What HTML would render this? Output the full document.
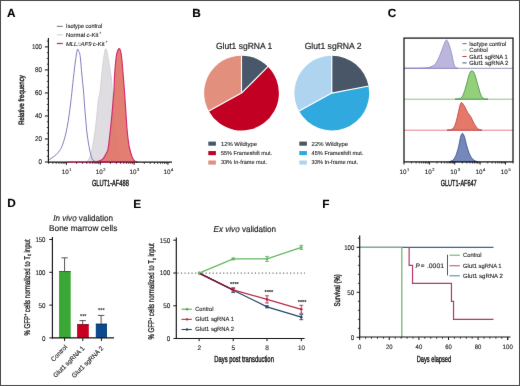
<!DOCTYPE html>
<html><head><meta charset="utf-8"><style>
html,body{margin:0;padding:0;background:#fff;width:520px;height:386px;overflow:hidden;}
svg{display:block;font-family:"Liberation Sans",sans-serif;text-rendering:geometricPrecision;}
</style></head><body>
<svg width="520" height="386" viewBox="0 0 520 386">
<defs><filter id="soft" x="0" y="0" width="520" height="386" filterUnits="userSpaceOnUse" color-interpolation-filters="sRGB"><feConvolveMatrix order="3" kernelMatrix="0 1 0 1 16 1 0 1 0" divisor="20" edgeMode="duplicate" preserveAlpha="true"/></filter></defs>
<g filter="url(#soft)">
<rect x="0.5" y="0.5" width="519" height="385" fill="#fff" stroke="#4a4a4a" stroke-width="1"/>
<text x="6.9" y="16.8" font-size="11.8" text-anchor="start" fill="#000" font-weight="bold" stroke="#000" stroke-width="0.12">A</text>
<text x="192.15" y="16.8" font-size="11.8" text-anchor="start" fill="#000" font-weight="bold" stroke="#000" stroke-width="0.12">B</text>
<text x="387.65" y="16.8" font-size="11.8" text-anchor="start" fill="#000" font-weight="bold" stroke="#000" stroke-width="0.12">C</text>
<text x="7.15" y="207.3" font-size="11.8" text-anchor="start" fill="#000" font-weight="bold" stroke="#000" stroke-width="0.12">D</text>
<text x="133.25" y="207.5" font-size="11.8" text-anchor="start" fill="#000" font-weight="bold" stroke="#000" stroke-width="0.12">E</text>
<text x="322.35" y="207.5" font-size="11.8" text-anchor="start" fill="#000" font-weight="bold" stroke="#000" stroke-width="0.12">F</text>
<path d="M86 161.8 C86.48 161.33 87.85 161.3 88.9 159 C89.95 156.7 91.17 153.55 92.3 148 C93.43 142.45 94.7 133.7 95.7 125.7 C96.7 117.7 97.58 105.65 98.3 100 C99.02 94.35 99.3 97.3 100 91.8 C100.7 86.3 101.75 73.47 102.5 67 C103.25 60.53 103.95 56.03 104.5 53 C105.05 49.97 105.33 48.8 105.8 48.8 C106.27 48.8 106.75 50.53 107.3 53 C107.85 55.47 108.38 59.07 109.1 63.6 C109.82 68.13 111.05 75.5 111.6 80.2 C112.15 84.9 112.17 88.5 112.4 91.8 C112.63 95.1 112.68 95.3 113 100 C113.32 104.7 113.8 113.67 114.3 120 C114.8 126.33 115.38 133 116 138 C116.62 143 117.25 146.58 118 150 C118.75 153.42 119.5 156.58 120.5 158.5 C121.5 160.42 122.75 160.92 124 161.5 C125.25 162.08 127.33 161.92 128 162 Z" fill="#dfdde2" stroke="#c8c8cc" stroke-width="0.7"/>
<path d="M92 162 C92.67 161.93 94.85 161.75 96 161.6 C97.15 161.45 97.98 161.37 98.9 161.1 C99.82 160.83 100.7 160.55 101.5 160 C102.3 159.45 102.92 158.88 103.7 157.8 C104.48 156.72 105.45 155.13 106.2 153.5 C106.95 151.87 107.48 152.12 108.2 148 C108.92 143.88 109.8 135.23 110.5 128.8 C111.2 122.37 111.93 114.53 112.4 109.4 C112.87 104.27 113.03 101.23 113.3 98 C113.57 94.77 113.78 93.8 114 90 C114.22 86.2 114.23 80.7 114.6 75.2 C114.97 69.7 115.67 61.12 116.2 57 C116.73 52.88 117.32 51.9 117.8 50.5 C118.28 49.1 118.67 48.6 119.1 48.6 C119.53 48.6 119.98 49.1 120.4 50.5 C120.82 51.9 121.13 52.88 121.6 57 C122.07 61.12 122.72 69.4 123.2 75.2 C123.68 81 124.08 86.1 124.5 91.8 C124.92 97.5 125.28 103.23 125.7 109.4 C126.12 115.57 126.58 123.7 127 128.8 C127.42 133.9 127.78 136.8 128.2 140 C128.62 143.2 128.8 145.03 129.5 148 C130.2 150.97 131.43 155.55 132.4 157.8 C133.37 160.05 134.37 160.8 135.3 161.5 C136.23 162.2 137.55 161.92 138 162 Z" fill="#e07466" stroke="#d22a6c" stroke-width="1.15" fill-opacity="0.92"/>
<path d="M48.6 160.2 C49.17 159.8 50.72 158.73 52 157.8 C53.28 156.87 55.05 155.77 56.3 154.6 C57.55 153.43 58.5 152.33 59.5 150.8 C60.5 149.27 61.27 148.17 62.3 145.4 C63.33 142.63 64.7 138.35 65.7 134.2 C66.7 130.05 67.53 125.2 68.3 120.5 C69.07 115.8 69.75 110.25 70.3 106 C70.85 101.75 71.18 98.75 71.6 95 C72.02 91.25 72.18 89 72.8 83.5 C73.42 78 74.63 67.2 75.3 62 C75.97 56.8 76.4 54.47 76.8 52.3 C77.2 50.13 77.42 49.17 77.7 49 C77.98 48.83 78.27 50.87 78.5 51.3 C78.73 51.73 78.88 51.15 79.1 51.6 C79.32 52.05 79.57 52.77 79.8 54 C80.03 55.23 80.15 55.5 80.5 59 C80.85 62.5 81.38 69.5 81.9 75 C82.42 80.5 83.15 86.83 83.6 92 C84.05 97.17 84.27 101.67 84.6 106 C84.93 110.33 85.18 113.33 85.6 118 C86.02 122.67 86.42 128.67 87.1 134 C87.78 139.33 88.98 146.25 89.7 150 C90.42 153.75 90.83 154.8 91.4 156.5 C91.97 158.2 92.33 159.35 93.1 160.2 C93.87 161.05 94.85 161.3 96 161.6 C97.15 161.9 99.33 161.93 100 162" fill="none" stroke="#7b76bb" stroke-width="0.95"/>
<line x1="48.4" y1="38" x2="48.4" y2="162.6" stroke="#141414" stroke-width="1.15"/>
<line x1="47.9" y1="162.1" x2="172" y2="162.1" stroke="#141414" stroke-width="1.15"/>
<line x1="67" y1="162.1" x2="136" y2="162.1" stroke="#c8286a" stroke-width="1.3"/>
<line x1="44.8" y1="162" x2="48.4" y2="162" stroke="#141414" stroke-width="1"/>
<line x1="46.8" y1="156.25" x2="48.4" y2="156.25" stroke="#141414" stroke-width="0.8"/>
<line x1="46.8" y1="150.49" x2="48.4" y2="150.49" stroke="#141414" stroke-width="0.8"/>
<line x1="46.8" y1="144.74" x2="48.4" y2="144.74" stroke="#141414" stroke-width="0.8"/>
<line x1="44.8" y1="138.98" x2="48.4" y2="138.98" stroke="#141414" stroke-width="1"/>
<line x1="46.8" y1="133.22" x2="48.4" y2="133.22" stroke="#141414" stroke-width="0.8"/>
<line x1="46.8" y1="127.47" x2="48.4" y2="127.47" stroke="#141414" stroke-width="0.8"/>
<line x1="46.8" y1="121.72" x2="48.4" y2="121.72" stroke="#141414" stroke-width="0.8"/>
<line x1="44.8" y1="115.96" x2="48.4" y2="115.96" stroke="#141414" stroke-width="1"/>
<line x1="46.8" y1="110.2" x2="48.4" y2="110.2" stroke="#141414" stroke-width="0.8"/>
<line x1="46.8" y1="104.45" x2="48.4" y2="104.45" stroke="#141414" stroke-width="0.8"/>
<line x1="46.8" y1="98.69" x2="48.4" y2="98.69" stroke="#141414" stroke-width="0.8"/>
<line x1="44.8" y1="92.94" x2="48.4" y2="92.94" stroke="#141414" stroke-width="1"/>
<line x1="46.8" y1="87.19" x2="48.4" y2="87.19" stroke="#141414" stroke-width="0.8"/>
<line x1="46.8" y1="81.43" x2="48.4" y2="81.43" stroke="#141414" stroke-width="0.8"/>
<line x1="46.8" y1="75.67" x2="48.4" y2="75.67" stroke="#141414" stroke-width="0.8"/>
<line x1="44.8" y1="69.92" x2="48.4" y2="69.92" stroke="#141414" stroke-width="1"/>
<line x1="46.8" y1="64.16" x2="48.4" y2="64.16" stroke="#141414" stroke-width="0.8"/>
<line x1="46.8" y1="58.41" x2="48.4" y2="58.41" stroke="#141414" stroke-width="0.8"/>
<line x1="46.8" y1="52.66" x2="48.4" y2="52.66" stroke="#141414" stroke-width="0.8"/>
<line x1="44.8" y1="46.9" x2="48.4" y2="46.9" stroke="#141414" stroke-width="1"/>
<line x1="46.8" y1="41.14" x2="48.4" y2="41.14" stroke="#141414" stroke-width="0.8"/>
<text x="42" y="164.3" font-size="6.9" text-anchor="end" fill="#262626" stroke="#262626" stroke-width="0.14" textLength="3.5" lengthAdjust="spacingAndGlyphs">0</text>
<text x="42" y="141.28" font-size="6.9" text-anchor="end" fill="#262626" stroke="#262626" stroke-width="0.14" textLength="7" lengthAdjust="spacingAndGlyphs">20</text>
<text x="42" y="118.26" font-size="6.9" text-anchor="end" fill="#262626" stroke="#262626" stroke-width="0.14" textLength="7" lengthAdjust="spacingAndGlyphs">40</text>
<text x="42" y="95.24" font-size="6.9" text-anchor="end" fill="#262626" stroke="#262626" stroke-width="0.14" textLength="7" lengthAdjust="spacingAndGlyphs">60</text>
<text x="42" y="72.22" font-size="6.9" text-anchor="end" fill="#262626" stroke="#262626" stroke-width="0.14" textLength="7" lengthAdjust="spacingAndGlyphs">80</text>
<text x="42" y="49.2" font-size="6.9" text-anchor="end" fill="#262626" stroke="#262626" stroke-width="0.14" textLength="10.1" lengthAdjust="spacingAndGlyphs">100</text>
<line x1="48.7" y1="162.2" x2="48.7" y2="163.9" stroke="#141414" stroke-width="0.8"/>
<line x1="52.93" y1="162.2" x2="52.93" y2="163.9" stroke="#141414" stroke-width="0.8"/>
<line x1="56.21" y1="162.2" x2="56.21" y2="163.9" stroke="#141414" stroke-width="0.8"/>
<line x1="58.89" y1="162.2" x2="58.89" y2="163.9" stroke="#141414" stroke-width="0.8"/>
<line x1="61.16" y1="162.2" x2="61.16" y2="163.9" stroke="#141414" stroke-width="0.8"/>
<line x1="63.12" y1="162.2" x2="63.12" y2="163.9" stroke="#141414" stroke-width="0.8"/>
<line x1="64.85" y1="162.2" x2="64.85" y2="163.9" stroke="#141414" stroke-width="0.8"/>
<line x1="66.4" y1="162.2" x2="66.4" y2="164.8" stroke="#141414" stroke-width="1"/>
<line x1="76.59" y1="162.2" x2="76.59" y2="163.9" stroke="#141414" stroke-width="0.8"/>
<line x1="82.55" y1="162.2" x2="82.55" y2="163.9" stroke="#141414" stroke-width="0.8"/>
<line x1="86.78" y1="162.2" x2="86.78" y2="163.9" stroke="#141414" stroke-width="0.8"/>
<line x1="90.06" y1="162.2" x2="90.06" y2="163.9" stroke="#141414" stroke-width="0.8"/>
<line x1="92.74" y1="162.2" x2="92.74" y2="163.9" stroke="#141414" stroke-width="0.8"/>
<line x1="95.01" y1="162.2" x2="95.01" y2="163.9" stroke="#141414" stroke-width="0.8"/>
<line x1="96.97" y1="162.2" x2="96.97" y2="163.9" stroke="#141414" stroke-width="0.8"/>
<line x1="98.7" y1="162.2" x2="98.7" y2="163.9" stroke="#141414" stroke-width="0.8"/>
<line x1="100.25" y1="162.2" x2="100.25" y2="164.8" stroke="#141414" stroke-width="1"/>
<line x1="110.44" y1="162.2" x2="110.44" y2="163.9" stroke="#141414" stroke-width="0.8"/>
<line x1="116.4" y1="162.2" x2="116.4" y2="163.9" stroke="#141414" stroke-width="0.8"/>
<line x1="120.63" y1="162.2" x2="120.63" y2="163.9" stroke="#141414" stroke-width="0.8"/>
<line x1="123.91" y1="162.2" x2="123.91" y2="163.9" stroke="#141414" stroke-width="0.8"/>
<line x1="126.59" y1="162.2" x2="126.59" y2="163.9" stroke="#141414" stroke-width="0.8"/>
<line x1="128.86" y1="162.2" x2="128.86" y2="163.9" stroke="#141414" stroke-width="0.8"/>
<line x1="130.82" y1="162.2" x2="130.82" y2="163.9" stroke="#141414" stroke-width="0.8"/>
<line x1="132.55" y1="162.2" x2="132.55" y2="163.9" stroke="#141414" stroke-width="0.8"/>
<line x1="134.1" y1="162.2" x2="134.1" y2="164.8" stroke="#141414" stroke-width="1"/>
<line x1="144.29" y1="162.2" x2="144.29" y2="163.9" stroke="#141414" stroke-width="0.8"/>
<line x1="150.25" y1="162.2" x2="150.25" y2="163.9" stroke="#141414" stroke-width="0.8"/>
<line x1="154.48" y1="162.2" x2="154.48" y2="163.9" stroke="#141414" stroke-width="0.8"/>
<line x1="157.76" y1="162.2" x2="157.76" y2="163.9" stroke="#141414" stroke-width="0.8"/>
<line x1="160.44" y1="162.2" x2="160.44" y2="163.9" stroke="#141414" stroke-width="0.8"/>
<line x1="162.71" y1="162.2" x2="162.71" y2="163.9" stroke="#141414" stroke-width="0.8"/>
<line x1="164.67" y1="162.2" x2="164.67" y2="163.9" stroke="#141414" stroke-width="0.8"/>
<line x1="166.4" y1="162.2" x2="166.4" y2="163.9" stroke="#141414" stroke-width="0.8"/>
<line x1="167.95" y1="162.2" x2="167.95" y2="164.8" stroke="#141414" stroke-width="1"/>
<text x="66.7" y="173.9" font-size="6.3" text-anchor="middle" fill="#262626" stroke="#262626" stroke-width="0.13">10<tspan dx="0.5" dy="-2.6" font-size="4">1</tspan></text>
<text x="100.55" y="173.9" font-size="6.3" text-anchor="middle" fill="#262626" stroke="#262626" stroke-width="0.13">10<tspan dx="0.5" dy="-2.6" font-size="4">2</tspan></text>
<text x="134.4" y="173.9" font-size="6.3" text-anchor="middle" fill="#262626" stroke="#262626" stroke-width="0.13">10<tspan dx="0.5" dy="-2.6" font-size="4">3</tspan></text>
<text x="168.25" y="173.9" font-size="6.3" text-anchor="middle" fill="#262626" stroke="#262626" stroke-width="0.13">10<tspan dx="0.5" dy="-2.6" font-size="4">4</tspan></text>
<text x="110.35" y="185.7" font-size="8.8" text-anchor="middle" fill="#1e1e1e" stroke="#1e1e1e" stroke-width="0.42" textLength="36.9" lengthAdjust="spacingAndGlyphs">GLUT1-AF488</text>
<text x="24.4" y="100.1" font-size="7.8" text-anchor="middle" fill="#1e1e1e" stroke="#1e1e1e" stroke-width="0.4" textLength="49.5" lengthAdjust="spacingAndGlyphs" transform="rotate(-90 24.4 100.1)">Relative frequency</text>
<line x1="56.8" y1="26.3" x2="62.8" y2="26.3" stroke="#6e6a88" stroke-width="1"/>
<line x1="56.8" y1="34.8" x2="62.8" y2="34.8" stroke="#cfdcd4" stroke-width="1.3"/>
<line x1="56.8" y1="43.5" x2="62.8" y2="43.5" stroke="#c8306a" stroke-width="1.3"/>
<text x="66.1" y="28.3" font-size="6" text-anchor="start" fill="#262626" stroke="#262626" stroke-width="0.12" textLength="36.2" lengthAdjust="spacingAndGlyphs">Isotype control</text>
<text x="66" y="36.9" font-size="5.9" text-anchor="start" fill="#262626" stroke="#262626" stroke-width="0.12">Normal c-Kit</text>
<text x="99" y="34" font-size="4" text-anchor="start" fill="#262626" stroke="#262626" stroke-width="0.08">+</text>
<text x="65.9" y="45.6" font-size="5.9" text-anchor="start" fill="#262626" font-style="italic" stroke="#262626" stroke-width="0.12">MLL::AF9</text>
<text x="92.8" y="45.6" font-size="5.9" text-anchor="start" fill="#262626" stroke="#262626" stroke-width="0.12">c-Kit</text>
<text x="105.4" y="42.7" font-size="4" text-anchor="start" fill="#262626" stroke="#262626" stroke-width="0.08">+</text>
<path d="M241.5 93.1 L241.5 55.7 A37.4 37.4 0 0 1 267.95 66.65 Z" fill="#485769" stroke="none" stroke-width="1"/>
<path d="M241.5 93.1 L267.95 66.65 A37.4 37.4 0 1 1 208.73 111.12 Z" fill="#c10024" stroke="none" stroke-width="1"/>
<path d="M241.5 93.1 L208.73 111.12 A37.4 37.4 0 0 1 241.5 55.7 Z" fill="#e28f7e" stroke="none" stroke-width="1"/>
<line x1="241.5" y1="93.1" x2="241.5" y2="55.4" stroke="#fff" stroke-width="1.15"/>
<line x1="241.5" y1="93.1" x2="268.16" y2="66.44" stroke="#fff" stroke-width="1.15"/>
<line x1="241.5" y1="93.1" x2="208.46" y2="111.26" stroke="#fff" stroke-width="1.15"/>
<path d="M331.8 93.1 L331.8 55.7 A37.4 37.4 0 0 1 368.54 86.09 Z" fill="#495668" stroke="none" stroke-width="1"/>
<path d="M331.8 93.1 L368.54 86.09 A37.4 37.4 0 0 1 299.03 111.12 Z" fill="#30a9de" stroke="none" stroke-width="1"/>
<path d="M331.8 93.1 L299.03 111.12 A37.4 37.4 0 0 1 331.8 55.7 Z" fill="#afd4f0" stroke="none" stroke-width="1"/>
<line x1="331.8" y1="93.1" x2="331.8" y2="55.4" stroke="#fff" stroke-width="1.15"/>
<line x1="331.8" y1="93.1" x2="368.83" y2="86.04" stroke="#fff" stroke-width="1.15"/>
<line x1="331.8" y1="93.1" x2="298.76" y2="111.26" stroke="#fff" stroke-width="1.15"/>
<text x="244.1" y="48.5" font-size="8.8" text-anchor="middle" fill="#1e1e1e" stroke="#1e1e1e" stroke-width="0.18" textLength="56.4" lengthAdjust="spacingAndGlyphs">Glut1 sgRNA 1</text>
<text x="333.1" y="48.5" font-size="8.8" text-anchor="middle" fill="#1e1e1e" stroke="#1e1e1e" stroke-width="0.18" textLength="56.8" lengthAdjust="spacingAndGlyphs">Glut1 sgRNA 2</text>
<rect x="208.3" y="141.6" width="7.6" height="4.1" fill="#485769"/>
<text x="220.9" y="145.55" font-size="5.8" text-anchor="start" fill="#262626" stroke="#262626" stroke-width="0.12" textLength="36.1" lengthAdjust="spacingAndGlyphs">12% Wildtype</text>
<rect x="208.3" y="151.05" width="7.6" height="4.1" fill="#c10024"/>
<text x="220.9" y="155" font-size="5.8" text-anchor="start" fill="#262626" stroke="#262626" stroke-width="0.12" textLength="51.3" lengthAdjust="spacingAndGlyphs">55% Frameshift mut.</text>
<rect x="208.3" y="160.5" width="7.6" height="4.1" fill="#e28f7e"/>
<text x="220.9" y="164.45" font-size="5.8" text-anchor="start" fill="#262626" stroke="#262626" stroke-width="0.12" textLength="46.1" lengthAdjust="spacingAndGlyphs">33% In-frame mut.</text>
<rect x="299.3" y="141.6" width="7.6" height="4.1" fill="#495668"/>
<text x="311.6" y="145.55" font-size="5.8" text-anchor="start" fill="#262626" stroke="#262626" stroke-width="0.12" textLength="36.5" lengthAdjust="spacingAndGlyphs">22% Wildtype</text>
<rect x="299.3" y="151.05" width="7.6" height="4.1" fill="#30a9de"/>
<text x="311.6" y="155" font-size="5.8" text-anchor="start" fill="#262626" stroke="#262626" stroke-width="0.12" textLength="51.9" lengthAdjust="spacingAndGlyphs">45% Frameshift mut.</text>
<rect x="299.3" y="160.5" width="7.6" height="4.1" fill="#afd4f0"/>
<text x="311.6" y="164.45" font-size="5.8" text-anchor="start" fill="#262626" stroke="#262626" stroke-width="0.12" textLength="46.5" lengthAdjust="spacingAndGlyphs">33% In-frame mut.</text>
<line x1="404" y1="68.3" x2="513" y2="68.3" stroke="#8c88ae" stroke-width="0.9"/>
<line x1="404" y1="99.2" x2="513" y2="99.2" stroke="#80c078" stroke-width="0.9"/>
<line x1="404" y1="130.2" x2="513" y2="130.2" stroke="#e2737f" stroke-width="0.9"/>
<path d="M404 68.3 C405.83 68.29 412 68.28 415 68.25 C418 68.22 419.82 68.21 422 68.1 C424.18 67.99 426.18 68.02 428.1 67.6 C430.02 67.18 432.15 66.4 433.5 65.6 C434.85 64.8 435.42 63.92 436.2 62.8 C436.98 61.68 437.52 60.33 438.2 58.9 C438.88 57.47 439.63 55.77 440.3 54.2 C440.97 52.63 441.48 51.37 442.2 49.5 C442.92 47.63 443.87 44.58 444.6 43 C445.33 41.42 445.88 39.82 446.6 40 C447.32 40.18 448.28 42.67 448.9 44.1 C449.52 45.53 449.85 47.03 450.3 48.6 C450.75 50.17 451.2 51.85 451.6 53.5 C452 55.15 452.37 56.93 452.7 58.5 C453.03 60.07 453.27 61.62 453.6 62.9 C453.93 64.18 454.35 65.42 454.7 66.2 C455.05 66.98 455.15 67.25 455.7 67.6 C456.25 67.95 457.62 68.18 458 68.3 Z" fill="#bcb6de" stroke="#8d86c4" stroke-width="0.8"/>
<path d="M455 99.2 C455.77 99.12 458.47 99.03 459.6 98.7 C460.73 98.37 461.15 98 461.8 97.2 C462.45 96.4 462.97 95.17 463.5 93.9 C464.03 92.63 464.53 91.05 465 89.6 C465.47 88.15 465.87 86.77 466.3 85.2 C466.73 83.63 467.19 81.8 467.6 80.2 C468.01 78.6 468.3 76.97 468.75 75.6 C469.2 74.23 469.78 72.8 470.3 72 C470.82 71.2 471.35 70.8 471.9 70.8 C472.45 70.8 473.05 71.2 473.6 72 C474.15 72.8 474.72 74.23 475.2 75.6 C475.68 76.97 476.05 78.6 476.5 80.2 C476.95 81.8 477.43 83.57 477.9 85.2 C478.37 86.83 478.82 88.4 479.3 90 C479.78 91.6 480.27 93.53 480.8 94.8 C481.33 96.07 481.87 96.92 482.5 97.6 C483.13 98.28 483.68 98.63 484.6 98.9 C485.52 99.17 487.43 99.15 488 99.2 Z" fill="#94d07c" stroke="#3f8f3c" stroke-width="0.8"/>
<path d="M447 130.2 C447.78 130.07 450.6 129.83 451.7 129.4 C452.8 128.97 453.03 128.35 453.6 127.6 C454.17 126.85 454.63 126.07 455.1 124.9 C455.57 123.73 456 122.05 456.4 120.6 C456.8 119.15 457.15 117.7 457.5 116.2 C457.85 114.7 458.18 113.03 458.5 111.6 C458.82 110.17 459.08 108.87 459.4 107.6 C459.72 106.33 460.05 104.83 460.4 104 C460.75 103.17 461.1 102.67 461.5 102.6 C461.9 102.53 462.35 103.08 462.8 103.6 C463.25 104.12 463.68 104.8 464.2 105.7 C464.72 106.6 465.33 107.88 465.9 109 C466.47 110.12 466.83 111.2 467.6 112.4 C468.37 113.6 469.73 115.02 470.5 116.2 C471.27 117.38 471.65 118.37 472.2 119.5 C472.75 120.63 473.2 121.88 473.8 123 C474.4 124.12 475.15 125.3 475.8 126.2 C476.45 127.1 477.07 127.83 477.7 128.4 C478.33 128.97 478.88 129.3 479.6 129.6 C480.32 129.9 481.6 130.1 482 130.2 Z" fill="#e6786a" stroke="#b8403e" stroke-width="0.8"/>
<path d="M449 161.9 C449.7 161.58 452.23 160.72 453.2 160 C454.17 159.28 454.32 158.45 454.8 157.6 C455.28 156.75 455.68 155.95 456.1 154.9 C456.52 153.85 456.9 152.58 457.3 151.3 C457.7 150.02 458.13 148.7 458.5 147.2 C458.87 145.7 459.18 143.9 459.5 142.3 C459.82 140.7 460.08 138.88 460.4 137.6 C460.72 136.32 461.05 135.32 461.4 134.6 C461.75 133.88 462.13 133.27 462.5 133.3 C462.87 133.33 463.23 134.08 463.6 134.8 C463.97 135.52 464.37 136.52 464.7 137.6 C465.03 138.68 465.28 140.02 465.6 141.3 C465.92 142.58 466.23 143.97 466.6 145.3 C466.97 146.63 467.4 148.02 467.8 149.3 C468.2 150.58 468.53 151.85 469 153 C469.47 154.15 470.03 155.23 470.6 156.2 C471.17 157.17 471.67 158.03 472.4 158.8 C473.13 159.57 474.07 160.3 475 160.8 C475.93 161.3 477.5 161.63 478 161.8 Z" fill="#7488bb" stroke="#2f4a88" stroke-width="0.8"/>
<rect x="404" y="38.1" width="109" height="123.8" fill="none" stroke="#1c1c1c" stroke-width="1.3"/>
<line x1="404" y1="161.9" x2="404" y2="164.5" stroke="#141414" stroke-width="1"/>
<line x1="411.63" y1="161.9" x2="411.63" y2="163.5" stroke="#141414" stroke-width="0.8"/>
<line x1="416.1" y1="161.9" x2="416.1" y2="163.5" stroke="#141414" stroke-width="0.8"/>
<line x1="419.27" y1="161.9" x2="419.27" y2="163.5" stroke="#141414" stroke-width="0.8"/>
<line x1="421.73" y1="161.9" x2="421.73" y2="163.5" stroke="#141414" stroke-width="0.8"/>
<line x1="423.73" y1="161.9" x2="423.73" y2="163.5" stroke="#141414" stroke-width="0.8"/>
<line x1="425.43" y1="161.9" x2="425.43" y2="163.5" stroke="#141414" stroke-width="0.8"/>
<line x1="426.9" y1="161.9" x2="426.9" y2="163.5" stroke="#141414" stroke-width="0.8"/>
<line x1="428.2" y1="161.9" x2="428.2" y2="163.5" stroke="#141414" stroke-width="0.8"/>
<line x1="429.36" y1="161.9" x2="429.36" y2="164.5" stroke="#141414" stroke-width="1"/>
<line x1="436.99" y1="161.9" x2="436.99" y2="163.5" stroke="#141414" stroke-width="0.8"/>
<line x1="441.46" y1="161.9" x2="441.46" y2="163.5" stroke="#141414" stroke-width="0.8"/>
<line x1="444.63" y1="161.9" x2="444.63" y2="163.5" stroke="#141414" stroke-width="0.8"/>
<line x1="447.09" y1="161.9" x2="447.09" y2="163.5" stroke="#141414" stroke-width="0.8"/>
<line x1="449.09" y1="161.9" x2="449.09" y2="163.5" stroke="#141414" stroke-width="0.8"/>
<line x1="450.79" y1="161.9" x2="450.79" y2="163.5" stroke="#141414" stroke-width="0.8"/>
<line x1="452.26" y1="161.9" x2="452.26" y2="163.5" stroke="#141414" stroke-width="0.8"/>
<line x1="453.56" y1="161.9" x2="453.56" y2="163.5" stroke="#141414" stroke-width="0.8"/>
<line x1="454.72" y1="161.9" x2="454.72" y2="164.5" stroke="#141414" stroke-width="1"/>
<line x1="462.35" y1="161.9" x2="462.35" y2="163.5" stroke="#141414" stroke-width="0.8"/>
<line x1="466.82" y1="161.9" x2="466.82" y2="163.5" stroke="#141414" stroke-width="0.8"/>
<line x1="469.99" y1="161.9" x2="469.99" y2="163.5" stroke="#141414" stroke-width="0.8"/>
<line x1="472.45" y1="161.9" x2="472.45" y2="163.5" stroke="#141414" stroke-width="0.8"/>
<line x1="474.45" y1="161.9" x2="474.45" y2="163.5" stroke="#141414" stroke-width="0.8"/>
<line x1="476.15" y1="161.9" x2="476.15" y2="163.5" stroke="#141414" stroke-width="0.8"/>
<line x1="477.62" y1="161.9" x2="477.62" y2="163.5" stroke="#141414" stroke-width="0.8"/>
<line x1="478.92" y1="161.9" x2="478.92" y2="163.5" stroke="#141414" stroke-width="0.8"/>
<line x1="480.08" y1="161.9" x2="480.08" y2="164.5" stroke="#141414" stroke-width="1"/>
<line x1="487.71" y1="161.9" x2="487.71" y2="163.5" stroke="#141414" stroke-width="0.8"/>
<line x1="492.18" y1="161.9" x2="492.18" y2="163.5" stroke="#141414" stroke-width="0.8"/>
<line x1="495.35" y1="161.9" x2="495.35" y2="163.5" stroke="#141414" stroke-width="0.8"/>
<line x1="497.81" y1="161.9" x2="497.81" y2="163.5" stroke="#141414" stroke-width="0.8"/>
<line x1="499.81" y1="161.9" x2="499.81" y2="163.5" stroke="#141414" stroke-width="0.8"/>
<line x1="501.51" y1="161.9" x2="501.51" y2="163.5" stroke="#141414" stroke-width="0.8"/>
<line x1="502.98" y1="161.9" x2="502.98" y2="163.5" stroke="#141414" stroke-width="0.8"/>
<line x1="504.28" y1="161.9" x2="504.28" y2="163.5" stroke="#141414" stroke-width="0.8"/>
<line x1="505.44" y1="161.9" x2="505.44" y2="164.5" stroke="#141414" stroke-width="1"/>
<line x1="513.07" y1="161.9" x2="513.07" y2="163.5" stroke="#141414" stroke-width="0.8"/>
<text x="404.3" y="173.9" font-size="6.3" text-anchor="middle" fill="#262626" stroke="#262626" stroke-width="0.13">10<tspan dx="0.5" dy="-2.6" font-size="4">1</tspan></text>
<text x="429.66" y="173.9" font-size="6.3" text-anchor="middle" fill="#262626" stroke="#262626" stroke-width="0.13">10<tspan dx="0.5" dy="-2.6" font-size="4">2</tspan></text>
<text x="455.02" y="173.9" font-size="6.3" text-anchor="middle" fill="#262626" stroke="#262626" stroke-width="0.13">10<tspan dx="0.5" dy="-2.6" font-size="4">3</tspan></text>
<text x="480.38" y="173.9" font-size="6.3" text-anchor="middle" fill="#262626" stroke="#262626" stroke-width="0.13">10<tspan dx="0.5" dy="-2.6" font-size="4">4</tspan></text>
<text x="505.74" y="173.9" font-size="6.3" text-anchor="middle" fill="#262626" stroke="#262626" stroke-width="0.13">10<tspan dx="0.5" dy="-2.6" font-size="4">5</tspan></text>
<text x="458.7" y="185.7" font-size="8.8" text-anchor="middle" fill="#1e1e1e" stroke="#1e1e1e" stroke-width="0.42" textLength="36" lengthAdjust="spacingAndGlyphs">GLUT1-AF647</text>
<line x1="462.4" y1="43.7" x2="466.6" y2="43.7" stroke="#6c6c80" stroke-width="1"/>
<text x="469.2" y="45.8" font-size="6" text-anchor="start" fill="#262626" stroke="#262626" stroke-width="0.12" textLength="37.1" lengthAdjust="spacingAndGlyphs">Isotype control</text>
<line x1="462.4" y1="50.1" x2="466.6" y2="50.1" stroke="#b8d8b0" stroke-width="1"/>
<text x="469.2" y="52.2" font-size="6" text-anchor="start" fill="#262626" stroke="#262626" stroke-width="0.12" textLength="18.7" lengthAdjust="spacingAndGlyphs">Control</text>
<line x1="462.4" y1="56.5" x2="466.6" y2="56.5" stroke="#c0404a" stroke-width="1"/>
<text x="469.2" y="58.6" font-size="6" text-anchor="start" fill="#262626" stroke="#262626" stroke-width="0.12" textLength="38.6" lengthAdjust="spacingAndGlyphs">Glut1 sgRNA 1</text>
<line x1="462.4" y1="62.9" x2="466.6" y2="62.9" stroke="#4a5a78" stroke-width="1"/>
<text x="469.2" y="65" font-size="6" text-anchor="start" fill="#262626" stroke="#262626" stroke-width="0.12" textLength="39.2" lengthAdjust="spacingAndGlyphs">Glut1 sgRNA 2</text>
<text x="53.3" y="220.9" font-size="8.6" text-anchor="start" fill="#1e1e1e" stroke="#1e1e1e" stroke-width="0.17" textLength="59.7" lengthAdjust="spacingAndGlyphs"><tspan font-style="italic">In vivo</tspan> validation</text>
<text x="49" y="231.1" font-size="8.4" text-anchor="start" fill="#1e1e1e" stroke="#1e1e1e" stroke-width="0.17" textLength="68.3" lengthAdjust="spacingAndGlyphs">Bone marrow cells</text>
<line x1="64.58" y1="271.12" x2="64.58" y2="257.87" stroke="#555" stroke-width="1"/>
<line x1="61.38" y1="257.87" x2="67.78" y2="257.87" stroke="#555" stroke-width="1"/>
<rect x="59.05" y="271.12" width="11.65" height="66.78" fill="#3ba836"/>
<line x1="59.05" y1="271.52" x2="70.7" y2="271.52" stroke="#1f5f22" stroke-width="0.8"/>
<line x1="82.65" y1="324.26" x2="82.65" y2="320.58" stroke="#555" stroke-width="1"/>
<line x1="79.45" y1="320.58" x2="85.85" y2="320.58" stroke="#555" stroke-width="1"/>
<rect x="77.1" y="324.26" width="11.7" height="13.64" fill="#c8001f"/>
<line x1="77.1" y1="324.66" x2="88.8" y2="324.66" stroke="#6a1020" stroke-width="0.8"/>
<line x1="101.1" y1="323.8" x2="101.1" y2="315.4" stroke="#555" stroke-width="1"/>
<line x1="97.9" y1="315.4" x2="104.3" y2="315.4" stroke="#555" stroke-width="1"/>
<rect x="95.8" y="323.8" width="11.2" height="14.1" fill="#0d4a8c"/>
<line x1="95.8" y1="324.2" x2="107" y2="324.2" stroke="#0f2a50" stroke-width="0.8"/>
<line x1="52.4" y1="237" x2="52.4" y2="338.4" stroke="#141414" stroke-width="1.15"/>
<line x1="52" y1="337.9" x2="114" y2="337.9" stroke="#141414" stroke-width="1.15"/>
<line x1="49.3" y1="337.9" x2="52.4" y2="337.9" stroke="#141414" stroke-width="1"/>
<text x="45.5" y="340.6" font-size="6.9" text-anchor="end" fill="#262626" stroke="#262626" stroke-width="0.14" textLength="3.5" lengthAdjust="spacingAndGlyphs">0</text>
<line x1="49.3" y1="305.1" x2="52.4" y2="305.1" stroke="#141414" stroke-width="1"/>
<text x="45.5" y="307.8" font-size="6.9" text-anchor="end" fill="#262626" stroke="#262626" stroke-width="0.14" textLength="7" lengthAdjust="spacingAndGlyphs">50</text>
<line x1="49.3" y1="272.3" x2="52.4" y2="272.3" stroke="#141414" stroke-width="1"/>
<text x="45.5" y="275" font-size="6.9" text-anchor="end" fill="#262626" stroke="#262626" stroke-width="0.14" textLength="10.1" lengthAdjust="spacingAndGlyphs">100</text>
<line x1="49.3" y1="239.5" x2="52.4" y2="239.5" stroke="#141414" stroke-width="1"/>
<text x="45.5" y="242.2" font-size="6.9" text-anchor="end" fill="#262626" stroke="#262626" stroke-width="0.14" textLength="10.1" lengthAdjust="spacingAndGlyphs">150</text>
<line x1="64.6" y1="337.9" x2="64.6" y2="341" stroke="#141414" stroke-width="1"/>
<line x1="82.8" y1="337.9" x2="82.8" y2="341" stroke="#141414" stroke-width="1"/>
<line x1="101.4" y1="337.9" x2="101.4" y2="341" stroke="#141414" stroke-width="1"/>
<text x="83.2" y="317.8" font-size="5.6" text-anchor="middle" fill="#222" stroke="#222" stroke-width="0.11" textLength="6.4" lengthAdjust="spacingAndGlyphs">***</text>
<text x="101.3" y="311.8" font-size="5.6" text-anchor="middle" fill="#222" stroke="#222" stroke-width="0.11" textLength="6.6" lengthAdjust="spacingAndGlyphs">***</text>
<text x="67.8" y="347.6" font-size="6.5" text-anchor="end" fill="#262626" stroke="#262626" stroke-width="0.13" textLength="20.2" lengthAdjust="spacingAndGlyphs" transform="rotate(-45 67.8 347.6)">Control</text>
<text x="85" y="348.8" font-size="6.5" text-anchor="end" fill="#262626" stroke="#262626" stroke-width="0.13" textLength="41.2" lengthAdjust="spacingAndGlyphs" transform="rotate(-45 85 348.8)">Glut1 sgRNA 1</text>
<text x="103.8" y="348.8" font-size="6.5" text-anchor="end" fill="#262626" stroke="#262626" stroke-width="0.13" textLength="41.6" lengthAdjust="spacingAndGlyphs" transform="rotate(-45 103.8 348.8)">Glut1 sgRNA 2</text>
<text x="29.6" y="287.4" font-size="8.4" text-anchor="middle" fill="#1e1e1e" stroke="#1e1e1e" stroke-width="0.3" textLength="96.3" lengthAdjust="spacingAndGlyphs" transform="rotate(-90 29.6 287.4)">% GFP<tspan dy="-2.4" font-size="4.6">+</tspan><tspan dy="2.4"> cells normalized to T</tspan><tspan dy="1.6" font-size="4.6">0</tspan><tspan dy="-1.6"> input</tspan></text>
<text x="213.6" y="231.9" font-size="8.6" text-anchor="start" fill="#1e1e1e" stroke="#1e1e1e" stroke-width="0.17" textLength="62.5" lengthAdjust="spacingAndGlyphs"><tspan font-style="italic">Ex vivo</tspan> validation</text>
<line x1="177.4" y1="273.1" x2="305" y2="273.1" stroke="#3a3a3a" stroke-width="0.9" stroke-dasharray="1.2 2.32"/>
<path d="M199.1 273.1 L233.2 290.2 L267 306.8 L301.3 317.2" fill="none" stroke="#284868" stroke-width="1.25"/>
<circle cx="199.1" cy="273.1" r="1.3" fill="#284868"/>
<line x1="233.2" y1="287.8" x2="233.2" y2="292.6" stroke="#284868" stroke-width="0.9"/>
<line x1="231.3" y1="292.6" x2="235.1" y2="292.6" stroke="#284868" stroke-width="0.9"/>
<line x1="231.3" y1="287.8" x2="235.1" y2="287.8" stroke="#284868" stroke-width="0.9"/>
<circle cx="233.2" cy="290.2" r="1.3" fill="#284868"/>
<line x1="267" y1="305.8" x2="267" y2="307.8" stroke="#284868" stroke-width="0.9"/>
<line x1="265.1" y1="307.8" x2="268.9" y2="307.8" stroke="#284868" stroke-width="0.9"/>
<line x1="265.1" y1="305.8" x2="268.9" y2="305.8" stroke="#284868" stroke-width="0.9"/>
<circle cx="267" cy="306.8" r="1.3" fill="#284868"/>
<line x1="301.3" y1="314.7" x2="301.3" y2="319.7" stroke="#284868" stroke-width="0.9"/>
<line x1="299.4" y1="319.7" x2="303.2" y2="319.7" stroke="#284868" stroke-width="0.9"/>
<line x1="299.4" y1="314.7" x2="303.2" y2="314.7" stroke="#284868" stroke-width="0.9"/>
<circle cx="301.3" cy="317.2" r="1.3" fill="#284868"/>
<path d="M199.1 273.1 L233.2 289.8 L267 299.4 L301.3 309.3" fill="none" stroke="#b82a48" stroke-width="1.25"/>
<circle cx="199.1" cy="273.1" r="1.3" fill="#b82a48"/>
<line x1="233.2" y1="288.6" x2="233.2" y2="291" stroke="#b82a48" stroke-width="0.9"/>
<line x1="231.3" y1="291" x2="235.1" y2="291" stroke="#b82a48" stroke-width="0.9"/>
<line x1="231.3" y1="288.6" x2="235.1" y2="288.6" stroke="#b82a48" stroke-width="0.9"/>
<circle cx="233.2" cy="289.8" r="1.3" fill="#b82a48"/>
<line x1="267" y1="295.8" x2="267" y2="303" stroke="#b82a48" stroke-width="0.9"/>
<line x1="265.1" y1="303" x2="268.9" y2="303" stroke="#b82a48" stroke-width="0.9"/>
<line x1="265.1" y1="295.8" x2="268.9" y2="295.8" stroke="#b82a48" stroke-width="0.9"/>
<circle cx="267" cy="299.4" r="1.3" fill="#b82a48"/>
<line x1="301.3" y1="305.3" x2="301.3" y2="313.3" stroke="#b82a48" stroke-width="0.9"/>
<line x1="299.4" y1="313.3" x2="303.2" y2="313.3" stroke="#b82a48" stroke-width="0.9"/>
<line x1="299.4" y1="305.3" x2="303.2" y2="305.3" stroke="#b82a48" stroke-width="0.9"/>
<circle cx="301.3" cy="309.3" r="1.3" fill="#b82a48"/>
<line x1="199.1" y1="273.1" x2="233.2" y2="290" stroke="#6a1e3e" stroke-width="1.3"/>
<path d="M199.1 273.1 L233.2 258.9 L267 258.9 L301.3 247.4" fill="none" stroke="#62b862" stroke-width="1.25"/>
<circle cx="199.1" cy="273.1" r="1.3" fill="#62b862"/>
<line x1="233.2" y1="258" x2="233.2" y2="259.8" stroke="#62b862" stroke-width="0.9"/>
<line x1="231.3" y1="259.8" x2="235.1" y2="259.8" stroke="#62b862" stroke-width="0.9"/>
<line x1="231.3" y1="258" x2="235.1" y2="258" stroke="#62b862" stroke-width="0.9"/>
<circle cx="233.2" cy="258.9" r="1.3" fill="#62b862"/>
<line x1="267" y1="256.4" x2="267" y2="261.4" stroke="#62b862" stroke-width="0.9"/>
<line x1="265.1" y1="261.4" x2="268.9" y2="261.4" stroke="#62b862" stroke-width="0.9"/>
<line x1="265.1" y1="256.4" x2="268.9" y2="256.4" stroke="#62b862" stroke-width="0.9"/>
<circle cx="267" cy="258.9" r="1.3" fill="#62b862"/>
<line x1="301.3" y1="245.4" x2="301.3" y2="249.4" stroke="#62b862" stroke-width="0.9"/>
<line x1="299.4" y1="249.4" x2="303.2" y2="249.4" stroke="#62b862" stroke-width="0.9"/>
<line x1="299.4" y1="245.4" x2="303.2" y2="245.4" stroke="#62b862" stroke-width="0.9"/>
<circle cx="301.3" cy="247.4" r="1.3" fill="#62b862"/>
<line x1="176.3" y1="237.5" x2="176.3" y2="338.9" stroke="#141414" stroke-width="1.15"/>
<line x1="173.5" y1="338.5" x2="304.6" y2="338.5" stroke="#141414" stroke-width="1.15"/>
<line x1="173.3" y1="305.8" x2="176.3" y2="305.8" stroke="#141414" stroke-width="1"/>
<line x1="173.3" y1="273" x2="176.3" y2="273" stroke="#141414" stroke-width="1"/>
<line x1="173.3" y1="240.2" x2="176.3" y2="240.2" stroke="#141414" stroke-width="1"/>
<text x="170.3" y="341" font-size="6.9" text-anchor="end" fill="#262626" stroke="#262626" stroke-width="0.14" textLength="3.5" lengthAdjust="spacingAndGlyphs">0</text>
<text x="170.3" y="308.2" font-size="6.9" text-anchor="end" fill="#262626" stroke="#262626" stroke-width="0.14" textLength="7" lengthAdjust="spacingAndGlyphs">50</text>
<text x="170.3" y="275.4" font-size="6.9" text-anchor="end" fill="#262626" stroke="#262626" stroke-width="0.14" textLength="10.5" lengthAdjust="spacingAndGlyphs">100</text>
<text x="170.3" y="242.6" font-size="6.9" text-anchor="end" fill="#262626" stroke="#262626" stroke-width="0.14" textLength="10.5" lengthAdjust="spacingAndGlyphs">150</text>
<line x1="199.1" y1="338.5" x2="199.1" y2="341.2" stroke="#141414" stroke-width="1"/>
<text x="199.3" y="349.8" font-size="6.6" text-anchor="middle" fill="#262626" stroke="#262626" stroke-width="0.13">2</text>
<line x1="233.2" y1="338.5" x2="233.2" y2="341.2" stroke="#141414" stroke-width="1"/>
<text x="233.4" y="349.8" font-size="6.6" text-anchor="middle" fill="#262626" stroke="#262626" stroke-width="0.13">5</text>
<line x1="267" y1="338.5" x2="267" y2="341.2" stroke="#141414" stroke-width="1"/>
<text x="267.2" y="349.8" font-size="6.6" text-anchor="middle" fill="#262626" stroke="#262626" stroke-width="0.13">8</text>
<line x1="301.3" y1="338.5" x2="301.3" y2="341.2" stroke="#141414" stroke-width="1"/>
<text x="301.5" y="349.8" font-size="6.6" text-anchor="middle" fill="#262626" stroke="#262626" stroke-width="0.13" textLength="7" lengthAdjust="spacingAndGlyphs">10</text>
<text x="244.05" y="362.3" font-size="8.8" text-anchor="middle" fill="#1e1e1e" stroke="#1e1e1e" stroke-width="0.42" textLength="59.7" lengthAdjust="spacingAndGlyphs">Days post transduction</text>
<text x="154.3" y="291.4" font-size="8.4" text-anchor="middle" fill="#1e1e1e" stroke="#1e1e1e" stroke-width="0.3" textLength="96.3" lengthAdjust="spacingAndGlyphs" transform="rotate(-90 154.3 291.4)">% GFP<tspan dy="-2.4" font-size="4.6">+</tspan><tspan dy="2.4"> cells normalized to T</tspan><tspan dy="1.6" font-size="4.6">0</tspan><tspan dy="-1.6"> input</tspan></text>
<text x="234.4" y="285.85" font-size="5.8" text-anchor="middle" fill="#222" stroke="#222" stroke-width="0.12" textLength="8.8" lengthAdjust="spacingAndGlyphs">****</text>
<text x="268.85" y="294.05" font-size="5.8" text-anchor="middle" fill="#222" stroke="#222" stroke-width="0.12" textLength="8.8" lengthAdjust="spacingAndGlyphs">****</text>
<text x="302.1" y="304.45" font-size="5.8" text-anchor="middle" fill="#222" stroke="#222" stroke-width="0.12" textLength="8.8" lengthAdjust="spacingAndGlyphs">****</text>
<line x1="181.5" y1="309.2" x2="191.8" y2="309.2" stroke="#50a850" stroke-width="1.1"/>
<circle cx="187" cy="309.2" r="1.2" fill="#50a850"/>
<text x="195.3" y="311.1" font-size="6" text-anchor="start" fill="#262626" stroke="#262626" stroke-width="0.12" textLength="18.2" lengthAdjust="spacingAndGlyphs">Control</text>
<line x1="181.5" y1="319.35" x2="191.8" y2="319.35" stroke="#b82a48" stroke-width="1.1"/>
<circle cx="187" cy="319.35" r="1.2" fill="#b82a48"/>
<text x="195.3" y="321.25" font-size="6" text-anchor="start" fill="#262626" stroke="#262626" stroke-width="0.12" textLength="38.7" lengthAdjust="spacingAndGlyphs">Glut1 sgRNA 1</text>
<line x1="181.5" y1="329.5" x2="191.8" y2="329.5" stroke="#284868" stroke-width="1.1"/>
<circle cx="187" cy="329.5" r="1.2" fill="#284868"/>
<text x="195.3" y="331.4" font-size="6" text-anchor="start" fill="#262626" stroke="#262626" stroke-width="0.12" textLength="38.7" lengthAdjust="spacingAndGlyphs">Glut1 sgRNA 2</text>
<path d="M409.13 247.3 V265.3 H412.54 V283.3 H451.46 V301.3 H453.53 V319.3 H493.49" fill="none" stroke="#b43a62" stroke-width="1.2"/>
<path d="M359.7 247.3 H493.49" fill="none" stroke="#48628e" stroke-width="1.2"/>
<path d="M359.7 247.3 H401.81 V337.3" fill="none" stroke="#78b878" stroke-width="1.3"/>
<line x1="359.7" y1="235.4" x2="359.7" y2="337.5" stroke="#141414" stroke-width="1.15"/>
<line x1="359.2" y1="337" x2="510.5" y2="337" stroke="#141414" stroke-width="1.15"/>
<line x1="356.6" y1="337.3" x2="359.7" y2="337.3" stroke="#141414" stroke-width="1"/>
<line x1="357.9" y1="328.3" x2="359.7" y2="328.3" stroke="#141414" stroke-width="0.8"/>
<line x1="357.9" y1="319.3" x2="359.7" y2="319.3" stroke="#141414" stroke-width="0.8"/>
<line x1="357.9" y1="310.3" x2="359.7" y2="310.3" stroke="#141414" stroke-width="0.8"/>
<line x1="357.9" y1="301.3" x2="359.7" y2="301.3" stroke="#141414" stroke-width="0.8"/>
<line x1="356.6" y1="292.3" x2="359.7" y2="292.3" stroke="#141414" stroke-width="1"/>
<line x1="357.9" y1="283.3" x2="359.7" y2="283.3" stroke="#141414" stroke-width="0.8"/>
<line x1="357.9" y1="274.3" x2="359.7" y2="274.3" stroke="#141414" stroke-width="0.8"/>
<line x1="357.9" y1="265.3" x2="359.7" y2="265.3" stroke="#141414" stroke-width="0.8"/>
<line x1="357.9" y1="256.3" x2="359.7" y2="256.3" stroke="#141414" stroke-width="0.8"/>
<line x1="356.6" y1="247.3" x2="359.7" y2="247.3" stroke="#141414" stroke-width="1"/>
<line x1="357.9" y1="238.3" x2="359.7" y2="238.3" stroke="#141414" stroke-width="0.8"/>
<text x="354.3" y="339.8" font-size="6.9" text-anchor="end" fill="#262626" stroke="#262626" stroke-width="0.14" textLength="3.5" lengthAdjust="spacingAndGlyphs">0</text>
<text x="354.3" y="294.8" font-size="6.9" text-anchor="end" fill="#262626" stroke="#262626" stroke-width="0.14" textLength="7" lengthAdjust="spacingAndGlyphs">50</text>
<text x="354.3" y="249.8" font-size="6.9" text-anchor="end" fill="#262626" stroke="#262626" stroke-width="0.14" textLength="10.1" lengthAdjust="spacingAndGlyphs">100</text>
<line x1="359.7" y1="337" x2="359.7" y2="340" stroke="#141414" stroke-width="1"/>
<line x1="365.62" y1="337" x2="365.62" y2="338.8" stroke="#141414" stroke-width="0.8"/>
<line x1="371.54" y1="337" x2="371.54" y2="338.8" stroke="#141414" stroke-width="0.8"/>
<line x1="377.46" y1="337" x2="377.46" y2="338.8" stroke="#141414" stroke-width="0.8"/>
<line x1="383.38" y1="337" x2="383.38" y2="338.8" stroke="#141414" stroke-width="0.8"/>
<line x1="389.3" y1="337" x2="389.3" y2="340" stroke="#141414" stroke-width="1"/>
<line x1="395.22" y1="337" x2="395.22" y2="338.8" stroke="#141414" stroke-width="0.8"/>
<line x1="401.14" y1="337" x2="401.14" y2="338.8" stroke="#141414" stroke-width="0.8"/>
<line x1="407.06" y1="337" x2="407.06" y2="338.8" stroke="#141414" stroke-width="0.8"/>
<line x1="412.98" y1="337" x2="412.98" y2="338.8" stroke="#141414" stroke-width="0.8"/>
<line x1="418.9" y1="337" x2="418.9" y2="340" stroke="#141414" stroke-width="1"/>
<line x1="424.82" y1="337" x2="424.82" y2="338.8" stroke="#141414" stroke-width="0.8"/>
<line x1="430.74" y1="337" x2="430.74" y2="338.8" stroke="#141414" stroke-width="0.8"/>
<line x1="436.66" y1="337" x2="436.66" y2="338.8" stroke="#141414" stroke-width="0.8"/>
<line x1="442.58" y1="337" x2="442.58" y2="338.8" stroke="#141414" stroke-width="0.8"/>
<line x1="448.5" y1="337" x2="448.5" y2="340" stroke="#141414" stroke-width="1"/>
<line x1="454.42" y1="337" x2="454.42" y2="338.8" stroke="#141414" stroke-width="0.8"/>
<line x1="460.34" y1="337" x2="460.34" y2="338.8" stroke="#141414" stroke-width="0.8"/>
<line x1="466.26" y1="337" x2="466.26" y2="338.8" stroke="#141414" stroke-width="0.8"/>
<line x1="472.18" y1="337" x2="472.18" y2="338.8" stroke="#141414" stroke-width="0.8"/>
<line x1="478.1" y1="337" x2="478.1" y2="340" stroke="#141414" stroke-width="1"/>
<line x1="484.02" y1="337" x2="484.02" y2="338.8" stroke="#141414" stroke-width="0.8"/>
<line x1="489.94" y1="337" x2="489.94" y2="338.8" stroke="#141414" stroke-width="0.8"/>
<line x1="495.86" y1="337" x2="495.86" y2="338.8" stroke="#141414" stroke-width="0.8"/>
<line x1="501.78" y1="337" x2="501.78" y2="338.8" stroke="#141414" stroke-width="0.8"/>
<line x1="507.7" y1="337" x2="507.7" y2="340" stroke="#141414" stroke-width="1"/>
<line x1="507.7" y1="337" x2="507.7" y2="340" stroke="#141414" stroke-width="1"/>
<text x="359.7" y="349.1" font-size="6.3" text-anchor="middle" fill="#262626" stroke="#262626" stroke-width="0.13" textLength="3.3" lengthAdjust="spacingAndGlyphs">0</text>
<text x="389.3" y="349.1" font-size="6.3" text-anchor="middle" fill="#262626" stroke="#262626" stroke-width="0.13" textLength="6.6" lengthAdjust="spacingAndGlyphs">20</text>
<text x="418.9" y="349.1" font-size="6.3" text-anchor="middle" fill="#262626" stroke="#262626" stroke-width="0.13" textLength="6.6" lengthAdjust="spacingAndGlyphs">40</text>
<text x="448.5" y="349.1" font-size="6.3" text-anchor="middle" fill="#262626" stroke="#262626" stroke-width="0.13" textLength="6.6" lengthAdjust="spacingAndGlyphs">60</text>
<text x="478.1" y="349.1" font-size="6.3" text-anchor="middle" fill="#262626" stroke="#262626" stroke-width="0.13" textLength="6.6" lengthAdjust="spacingAndGlyphs">80</text>
<text x="507.7" y="349.1" font-size="6.3" text-anchor="middle" fill="#262626" stroke="#262626" stroke-width="0.13" textLength="10.2" lengthAdjust="spacingAndGlyphs">100</text>
<text x="433.95" y="362.3" font-size="8.8" text-anchor="middle" fill="#1e1e1e" stroke="#1e1e1e" stroke-width="0.42" textLength="34.5" lengthAdjust="spacingAndGlyphs">Days elapsed</text>
<text x="340" y="290.3" font-size="8.2" text-anchor="middle" fill="#1e1e1e" stroke="#1e1e1e" stroke-width="0.4" textLength="32.3" lengthAdjust="spacingAndGlyphs" transform="rotate(-90 340 290.3)">Survival (%)</text>
<text x="415.6" y="267.6" font-size="6.4" text-anchor="start" fill="#262626" font-style="italic" stroke="#262626" stroke-width="0.13">P</text>
<text x="420.7" y="267.6" font-size="6.4" text-anchor="start" fill="#262626" stroke="#262626" stroke-width="0.13">=</text>
<text x="426.9" y="267.6" font-size="6.6" text-anchor="start" fill="#262626" stroke="#262626" stroke-width="0.13" textLength="17.2" lengthAdjust="spacingAndGlyphs">.0001</text>
<line x1="447.5" y1="254.7" x2="447.5" y2="275.4" stroke="#444" stroke-width="0.9"/>
<line x1="449.5" y1="255.2" x2="459.8" y2="255.2" stroke="#62bb62" stroke-width="1.1"/>
<text x="463.1" y="257.1" font-size="6" text-anchor="start" fill="#262626" stroke="#262626" stroke-width="0.12" textLength="18.4" lengthAdjust="spacingAndGlyphs">Control</text>
<line x1="449.5" y1="265.75" x2="459.8" y2="265.75" stroke="#c4587a" stroke-width="1.1"/>
<text x="463.1" y="267.6" font-size="6" text-anchor="start" fill="#262626" stroke="#262626" stroke-width="0.12" textLength="38.5" lengthAdjust="spacingAndGlyphs">Glut1 sgRNA 1</text>
<line x1="449.5" y1="275.8" x2="459.8" y2="275.8" stroke="#5f86bb" stroke-width="1.1"/>
<text x="463.1" y="277.7" font-size="6" text-anchor="start" fill="#262626" stroke="#262626" stroke-width="0.12" textLength="39.7" lengthAdjust="spacingAndGlyphs">Glut1 sgRNA 2</text>
</g>
</svg>
</body></html>
